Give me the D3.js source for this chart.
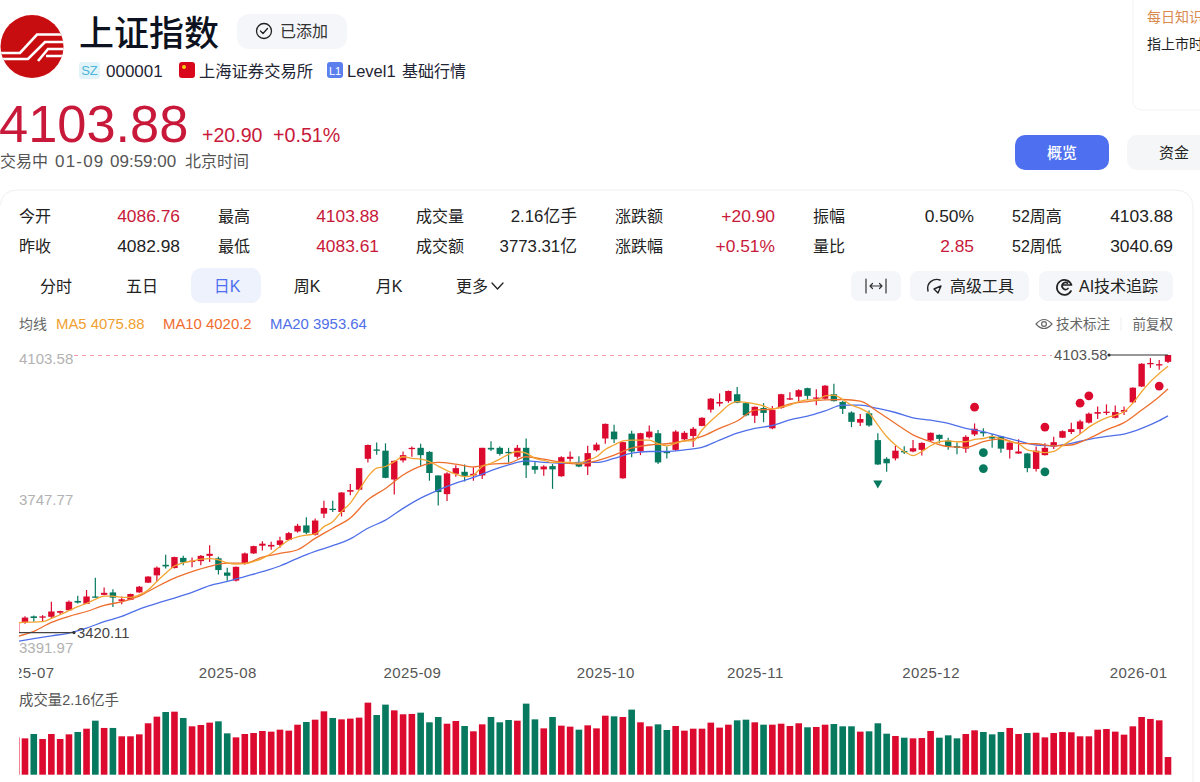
<!DOCTYPE html>
<html>
<head>
<meta charset="utf-8">
<script src="https://cdn.jsdelivr.net/npm/d3@7"></script>
<style>
  html, body { margin: 0; padding: 0; background: #fff; overflow: hidden; }
  svg { display: block; }
  text { font-family: "Liberation Sans", "Noto Sans CJK SC", sans-serif; }
</style>
</head>
<body>
<div id="master"></div>
<script>
// candles, first one is cut off by the left edge of the chart
const opens = [3420,
  3445,3460,3457,3459,3469,3475,3498,3491,3509,3513,
  3519,3498,3501,3519,3543,3561,3587,3579,3604,3594,
  3596,3609,3603,3568,3548,3589,3615,3634,3632,3636,
  3648,3669,3684,3661,3713,3725,3717,3767,3772,3848,
  3871,3868,3797,3844,3872,3875,3865,3807,3761,3811,
  3816,3807,3807,3875,3875,3865,3853,3875,3830,3822,
  3830,3805,3848,3839,3829,3869,3898,3915,3800,3910,
  3867,3901,3911,3865,3870,3896,3904,3929,3969,3984,
  3990,4007,3985,3954,3973,3923,3973,3994,4001,4022,
  3996,3996,4007,3988,3962,3937,3960,3894,3848,3849,
  3867,3866,3870,3893,3907,3893,3879,3873,3908,3914,
  3902,3903,3870,3861,3861,3823,3857,3878,3900,3914,
  3921,3937,3959,3961,3949,3964,3987,4026,4081,4078,4086.76];
const closes = [3443,
  3457,3456,3460,3472,3473,3496,3494,3509,3506,3518,
  3506,3502,3515,3533,3558,3580,3583,3606,3593,3597,
  3609,3614,3574,3560,3582,3615,3633,3639,3636,3647,
  3665,3683,3666,3696,3727,3722,3765,3771,3825,3882,
  3868,3801,3843,3857,3875,3857,3813,3766,3812,3825,
  3806,3811,3875,3871,3860,3862,3875,3832,3821,3829,
  3822,3852,3853,3829,3862,3883,3934,3896,3889,3866,
  3911,3915,3839,3862,3915,3912,3922,3949,3996,3988,
  4015,3986,3955,3976,3961,3968,4007,3997,4017,4003,
  3999,4028,3990,3971,3939,3946,3930,3834,3837,3868,
  3864,3874,3887,3912,3897,3878,3875,3902,3922,3911,
  3898,3873,3888,3866,3825,3868,3875,3889,3916,3921,
  3940,3959,3963,3964,3963,3968,4023,4082,4084,4081,4103.58];
const highs = [3443,
  3460,3462,3463,3496,3474,3499,3511,3525,3555,3531,
  3527,3509,3516,3535,3559,3583,3612,3607,3609,3605,
  3611,3635,3607,3580,3583,3617,3634,3645,3644,3656,
  3668,3688,3704,3701,3745,3745,3766,3786,3825,3883,
  3888,3886,3844,3866,3878,3885,3867,3807,3815,3832,
  3834,3827,3875,3891,3878,3875,3882,3898,3840,3832,
  3835,3854,3866,3854,3880,3888,3935,3932,3890,3917,
  3912,3930,3919,3878,3918,3916,3926,3950,3998,4009,
  4016,4025,3987,3977,3985,3978,4008,4012,4019,4023,
  4019,4030,4033,3991,3965,3958,3967,3911,3852,3880,
  3879,3894,3889,3913,3908,3900,3888,3906,3935,3923,
  3909,3903,3890,3896,3862,3878,3886,3902,3918,3937,
  3944,3962,3977,3982,3979,3977,4024,4083,4096,4091,4103.88];
const lows = [3420,
  3442,3447,3447,3455,3464,3475,3492,3491,3506,3512,
  3483,3490,3500,3518,3542,3546,3578,3578,3586,3581,
  3586,3594,3563,3548,3546,3587,3614,3622,3624,3629,
  3647,3666,3662,3659,3702,3717,3706,3758,3771,3839,
  3858,3800,3760,3839,3853,3829,3794,3733,3744,3804,
  3792,3794,3798,3867,3856,3839,3849,3801,3811,3806,
  3774,3804,3841,3827,3808,3866,3885,3887,3799,3852,
  3857,3898,3835,3849,3867,3894,3877,3928,3962,3977,
  3986,3985,3953,3936,3938,3921,3971,3993,3990,3993,
  3980,3994,3989,3958,3926,3929,3927,3833,3816,3844,
  3860,3864,3856,3890,3886,3870,3859,3863,3904,3903,
  3875,3863,3849,3860,3815,3817,3856,3872,3899,3909,
  3909,3935,3946,3956,3947,3956,3985,4025,4072,4067,4083.61];
// volume in 亿手
const volumes = [4.56,
  4.44,4.97,4.36,4.97,4.36,4.93,5.22,5.62,6.60,5.71,
  5.71,4.69,4.69,4.93,6.28,7.09,7.66,7.70,6.93,5.91,
  6.07,6.36,6.52,5.05,4.56,4.97,5.09,5.34,5.26,5.50,
  5.38,6.11,6.44,6.72,7.74,6.93,6.76,6.85,6.97,8.80,
  7.29,8.56,7.86,7.38,7.42,7.58,6.40,7.05,6.23,6.56,
  5.95,5.30,6.15,7.05,6.40,6.68,6.60,8.68,6.76,5.66,
  7.05,5.99,5.87,5.50,6.03,5.66,7.21,7.13,7.05,7.95,
  6.40,5.91,6.15,5.46,5.95,5.38,5.62,5.62,6.36,5.75,
  6.11,6.64,6.72,6.40,6.11,6.11,6.23,5.95,6.28,5.79,
  5.83,6.11,6.19,5.91,5.91,5.26,5.30,6.28,5.01,4.73,
  4.52,4.44,4.48,5.34,4.52,4.81,4.44,4.97,5.42,5.22,
  4.93,5.22,5.71,4.97,5.09,5.13,4.56,5.09,5.22,5.18,
  4.69,4.69,5.50,5.58,5.26,4.89,5.91,7.05,6.81,6.64,2.16];
// moving averages, ma5 has one value per candle
const ma5 = [3443,
  3446,3446,3447,3455,3464,3474,3484,3492,3502,3510,
  3510,3507,3507,3513,3525,3546,3566,3584,3592,3596,
  3601,3602,3599,3592,3589,3590,3595,3603,3615,3632,
  3648,3656,3660,3663,3681,3693,3718,3739,3771,3804,
  3825,3829,3841,3853,3849,3847,3841,3830,3819,3810,
  3804,3808,3829,3837,3847,3859,3866,3862,3849,3844,
  3839,3839,3839,3837,3845,3853,3871,3882,3892,3894,
  3894,3894,3885,3880,3886,3892,3892,3919,3941,3960,
  3980,3989,3987,3983,3978,3971,3975,3980,3989,3993,
  3993,4003,4005,3994,3980,3972,3960,3931,3903,3882,
  3866,3856,3866,3880,3890,3892,3890,3890,3896,3898,
  3903,3897,3890,3885,3870,3866,3863,3866,3880,3894,
  3909,3926,3939,3949,3955,3964,3985,4013,4038,4058,4075.88];
// ma10 and ma20 were read at every second candle
const maDays = d3.range(-1, 130, 2).concat([130]);
const ma10 = [3410,
  3423,3445,3460,3472,3487,3496,3510,3533,3554,3570,
  3583,3591,3591,3606,3615,3624,3652,3677,3702,3747,
  3775,3808,3830,3839,3835,3828,3835,3837,3853,3847,
  3839,3835,3843,3857,3874,3882,3885,3892,3903,3923,
  3941,3968,3970,3983,3989,3993,3994,3990,3964,3935,
  3907,3890,3878,3876,3890,3897,3886,3885,3880,3882,
  3898,3919,3937,3968,4001,4020.2];
const ma20 = [3398,
  3405,3412,3419,3431,3447,3460,3478,3492,3505,3519,
  3536,3546,3558,3570,3584,3603,3620,3634,3651,3677,
  3697,3726,3751,3771,3788,3802,3819,3833,3843,3839,
  3837,3839,3839,3849,3862,3866,3866,3870,3876,3894,
  3911,3923,3930,3944,3953,3966,3980,3980,3972,3962,
  3949,3943,3935,3923,3915,3903,3892,3882,3880,3886,
  3896,3903,3909,3923,3942,3953.64];

// technical markers: day, price
const redDotDays = [108, 116, 120, 121, 129];
const redDotPrices = [3975, 3926, 3985, 4003, 4027];
const greenDotDays = [109, 109, 116];
const greenDotPrices = [3863, 3824, 3816];
const triangleDays = [97];
const trianglePrices = [3788];

const priceTicks = [4103.58, 3747.77, 3391.97];
const monthDays = [0, 23, 44, 66, 83, 103, 126.6];
const monthLabels = ["2025-07", "2025-08", "2025-09", "2025-10", "2025-11", "2025-12", "2026-01"];

const red = "#dc0a2e";
const green = "#07795f";
const priceRed = "#c8193a";
const w = 1200, h = 782;

let svg = d3.select("#master").append("svg").attr("width", w).attr("height", h);

function txt(x, y, str, size, color, anchor, weight) {
  return svg.append("text").attr("x", x).attr("y", y).text(str)
    .attr("font-size", size).attr("fill", color)
    .attr("text-anchor", anchor || "start").attr("font-weight", weight || 400);
}
function box(x, y, bw, bh, r, fill) {
  return svg.append("rect").attr("x", x).attr("y", y).attr("width", bw).attr("height", bh).attr("rx", r).attr("fill", fill);
}
function icon(d, color, sw) {
  return svg.append("path").attr("d", d).attr("fill", "none").attr("stroke", color).attr("stroke-width", sw || 1.4)
    .attr("stroke-linecap", "round").attr("stroke-linejoin", "round");
}

// header
svg.append("clipPath").attr("id", "logo").append("circle").attr("cx", 32).attr("cy", 46.5).attr("r", 31.5);
let logo = svg.append("g").attr("clip-path", "url(#logo)");
logo.append("rect").attr("width", 64).attr("height", 80).attr("fill", "#c80d10");
logo.append("path").attr("fill", "none").attr("stroke", "#fff").attr("stroke-width", 2.6)
  .attr("d", "M0,53 H20 L37,34.5 H64 M2,59 H28 L45,42 H64 M38,61 L48,49 H64 M46,56 H64");
txt(79, 45.5, "上证指数", 35, "#0d1220", "start", 500);
box(237, 14, 110, 35, 12, "#f4f6f9");
svg.append("circle").attr("cx", 264).attr("cy", 31).attr("r", 7.5).attr("fill", "none").attr("stroke", "#222").attr("stroke-width", 1.3);
icon("M260.5,31 L263,33.5 L267.5,28.5", "#222", 1.3);
txt(280, 37, "已添加", 16, "#333");

box(79, 62, 21, 17, 3, "#e2f4fa");
txt(89.5, 75, "SZ", 13, "#4ab5d6", "middle");
txt(106, 77, "000001", 17, "#1e2433");
box(179, 62, 16, 16, 3, "#d8071c");
svg.append("circle").attr("cx", 184).attr("cy", 67).attr("r", 2).attr("fill", "#f7d000");
txt(199, 77, "上海证券交易所", 16.3, "#1e2433");
box(327, 62, 16, 16, 3, "#5b80ee");
txt(335, 75, "L1", 11, "#fff", "middle");
txt(347, 77, "Level1", 16.5, "#1e2433");
txt(402, 77, "基础行情", 16, "#1e2433");

txt(-1, 142, "4103.88", 52.4, priceRed);
txt(202, 142, "+20.90", 19.6, priceRed);
txt(273, 142, "+0.51%", 19.7, priceRed);
txt(0, 167, "交易中", 16, "#555");
txt(55, 167, "01-09", 17, "#555").attr("letter-spacing", 1.2);
txt(110, 167, "09:59:00", 17, "#555");
txt(185, 167, "北京时间", 16, "#555");

// right side card and buttons
svg.append("path").attr("d", "M1133,0 V100 Q1133,110 1143,110 H1200").attr("fill", "none").attr("stroke", "#f3f3f5");
txt(1147, 22, "每日知识", 14, "#d98a4f");
txt(1147, 49, "指上市时", 14, "#222");
box(1015, 135, 94, 35, 10, "#4d6ff0");
txt(1062, 158, "概览", 15, "#fff", "middle", 500);
box(1127, 135, 90, 35, 10, "#f5f6f8");
txt(1174, 158, "资金", 15, "#222", "middle");

svg.append("path").attr("d", "M0,205 Q2,190 18,190 H1175 Q1193,190 1193,208 V782").attr("fill", "none").attr("stroke", "#f0f0f3");

// quote table
const quoteRows = [
  [[19, "今开"], [180, "4086.76", priceRed], [218, "最高"], [379, "4103.88", priceRed], [416, "成交量"], [577, "2.16亿手"],
   [615, "涨跌额"], [775, "+20.90", priceRed], [813, "振幅"], [974, "0.50%"], [1012, "52周高"], [1173, "4103.88"]],
  [[19, "昨收"], [180, "4082.98"], [218, "最低"], [379, "4083.61", priceRed], [416, "成交额"], [577, "3773.31亿"],
   [615, "涨跌幅"], [775, "+0.51%", priceRed], [813, "量比"], [974, "2.85", priceRed], [1012, "52周低"], [1173, "3040.69"]]
];
quoteRows.forEach((row, r) => {
  row.forEach((c, i) => {
    let size = i % 2 ? (/[亿手]/.test(c[1]) ? 16.8 : 17.4) : 16;
    txt(c[0], 222 + r * 30, c[1], size, c[2] || "#222", i % 2 ? "end" : "start");
  });
});

// period tabs
box(191, 268, 70, 35, 10, "#eef2fd");
[[56, "分时"], [142, "五日"], [227, "日K", "#4f6ff0"], [307, "周K"], [389, "月K"]].forEach(t => {
  txt(t[0], 292, t[1], 16, t[2] || "#222", "middle");
});
txt(456, 292, "更多", 16, "#222");
icon("M492,283 L497.5,289 L503,283", "#222", 1.3);

// tool buttons
box(851, 271, 50, 30, 8, "#f5f6f9");
icon("M866,279 V293 M886,279 V293 M870,286 H882 M872.5,283.5 L870,286 L872.5,288.5 M879.5,283.5 L882,286 L879.5,288.5", "#333", 1.2);
box(910, 271, 119, 30, 8, "#f5f6f9");
icon("M928,291 C926,282 934,278 940,280 M934,289 L941,286 L938,293 Z", "#222", 1.4);
txt(950, 292, "高级工具", 16, "#222");
box(1039, 271, 134, 30, 8, "#f5f6f9");
icon("M1071,291 A7.5,7.5 0 1 1 1071.5,285 H1062 M1068,288.5 A3.5,3.5 0 1 1 1067.5,283", "#222", 1.7);
txt(1079, 292, "AI技术追踪", 16, "#222");

// ma legend
txt(19, 329, "均线", 14, "#666");
txt(56, 329, "MA5 4075.88", 14.9, "#f0a030");
txt(163, 329, "MA10 4020.2", 14.9, "#ef6c2e");
txt(270, 329, "MA20 3953.64", 14.9, "#4f6fe8");
icon("M1036,324 Q1044,315 1052,324 Q1044,333 1036,324 Z", "#666", 1.2);
svg.append("circle").attr("cx", 1044).attr("cy", 324).attr("r", 2.4).attr("fill", "none").attr("stroke", "#666").attr("stroke-width", 1.2);
txt(1056, 329, "技术标注", 13.5, "#666");
svg.append("line").attr("x1", 1121).attr("x2", 1121).attr("y1", 317).attr("y2", 331).attr("stroke", "#eee");
txt(1173, 329, "前复权", 13.5, "#666", "end");

// chart
const days = opens.map((d, i) => i - 1);
const xScale = d3.scaleLinear().domain([-1, 130]).range([16.2, 1168]);
const yScale = d3.scaleLinear().domain([3391.97, 4103.58]).range([644, 355]);
const volScale = d3.scaleLinear().domain([0, 8.88]).range([774.7, 702]);

svg.append("clipPath").attr("id", "plot").append("rect").attr("x", 19).attr("y", 340).attr("width", 1160).attr("height", 440);

// price labels
let yAxis = d3.axisRight(yScale).tickValues(priceTicks).tickFormat(d3.format(".2f")).tickSize(0);
let yGroup = svg.append("g").attr("transform", "translate(16,0)").call(yAxis);
yGroup.select(".domain").remove();
yGroup.selectAll("text").attr("font-size", 15).attr("font-family", null).attr("fill", "#b2b2b2")
  .attr("dy", d => d == 3747.77 ? "0.32em" : "0.55em");

// highest price line
svg.append("line").attr("x1", 74).attr("x2", 1052).attr("y1", yScale(4103.58)).attr("y2", yScale(4103.58))
  .attr("stroke", "#f59aa8").attr("stroke-dasharray", "4,4").attr("shape-rendering", "crispEdges");

let plot = svg.append("g").attr("clip-path", "url(#plot)");

// candles
const color = i => closes[i] >= opens[i] ? red : green;
plot.selectAll(".wick").data(days).enter().append("line").attr("class", "wick")
  .attr("x1", d => xScale(d)).attr("x2", d => xScale(d))
  .attr("y1", (d, i) => yScale(highs[i])).attr("y2", (d, i) => yScale(lows[i]))
  .attr("stroke", (d, i) => color(i)).attr("stroke-width", 1.2);
plot.selectAll(".body").data(days).enter().append("rect").attr("class", "body")
  .attr("x", d => xScale(d) - 3.2).attr("width", 6.4)
  .attr("y", (d, i) => yScale(Math.max(opens[i], closes[i])))
  .attr("height", (d, i) => Math.max(1.3, Math.abs(yScale(opens[i]) - yScale(closes[i]))))
  .attr("fill", (d, i) => color(i));

// moving averages
const line = d3.line().x(d => xScale(d[0])).y(d => yScale(d[1])).curve(d3.curveMonotoneX);
[[d3.zip(maDays, ma20), "#4f6fe8"], [d3.zip(maDays, ma10), "#ee6f2d"], [d3.zip(days, ma5), "#f2a533"]].forEach(s => {
  plot.append("path").attr("d", line(s[0])).attr("fill", "none").attr("stroke", s[1]).attr("stroke-width", 1.3);
});

// markers
plot.selectAll(".reddot").data(redDotDays).enter().append("circle").attr("class", "reddot")
  .attr("cx", d => xScale(d)).attr("cy", (d, i) => yScale(redDotPrices[i])).attr("r", 4.4).attr("fill", red);
plot.selectAll(".greendot").data(greenDotDays).enter().append("circle").attr("class", "greendot")
  .attr("cx", d => xScale(d)).attr("cy", (d, i) => yScale(greenDotPrices[i])).attr("r", 4.4).attr("fill", green);
const tri = d3.symbol().type(d3.symbolTriangle).size(36);
plot.selectAll(".tri").data(triangleDays).enter().append("path").attr("class", "tri").attr("d", tri)
  .attr("transform", (d, i) => "translate(" + xScale(d) + "," + yScale(trianglePrices[i]) + ") rotate(180)")
  .attr("fill", green);

// max and min callouts
svg.append("line").attr("x1", 1109).attr("x2", xScale(130)).attr("y1", yScale(4103.58)).attr("y2", yScale(4103.58)).attr("stroke", "#333").attr("stroke-width", 1.2);
svg.append("circle").attr("cx", 1109).attr("cy", yScale(4103.58)).attr("r", 1.6).attr("fill", "#333");
txt(1054, yScale(4103.58) + 5, "4103.58", 14.8, "#555");
svg.append("line").attr("x1", 19).attr("x2", 74).attr("y1", yScale(3420.11)).attr("y2", yScale(3420.11)).attr("stroke", "#444").attr("stroke-width", 1.2);
svg.append("circle").attr("cx", 74).attr("cy", yScale(3420.11)).attr("r", 1.6).attr("fill", "#333");
txt(77, yScale(3420.11) + 5, "3420.11", 14.8, "#444");

// month axis
let xAxis = d3.axisBottom(xScale).tickValues(monthDays).tickFormat((d, i) => monthLabels[i]).tickSize(0);
let xGroup = plot.append("g").attr("transform", "translate(0,664)").call(xAxis);
xGroup.select(".domain").remove();
xGroup.selectAll("text").attr("font-size", 15).attr("font-family", null).attr("fill", "#555").attr("letter-spacing", 0.4);

// volume
txt(19, 705, "成交量2.16亿手", 14.4, "#555");
plot.selectAll(".vol").data(days).enter().append("rect").attr("class", "vol")
  .attr("x", d => xScale(d) - 3.3).attr("width", 6.6)
  .attr("y", (d, i) => volScale(volumes[i]))
  .attr("height", (d, i) => volScale(0) - volScale(volumes[i]))
  .attr("fill", (d, i) => color(i));
</script>
</body>
</html>
